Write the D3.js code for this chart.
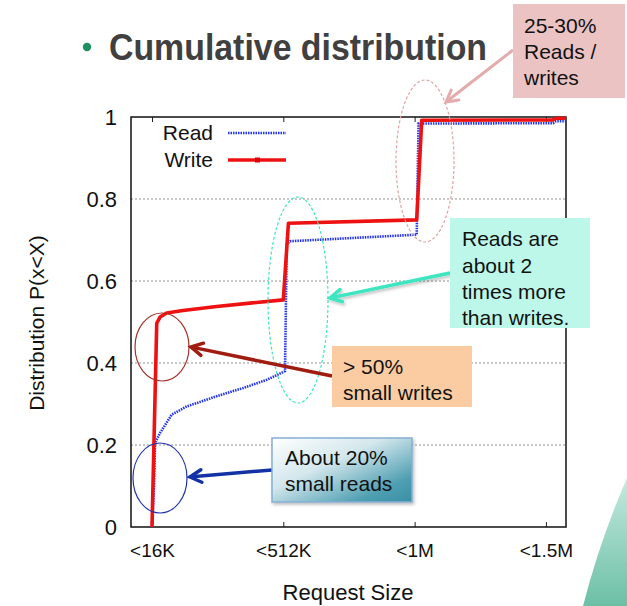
<!DOCTYPE html>
<html>
<head>
<meta charset="utf-8">
<script src="https://cdn.jsdelivr.net/npm/d3@7"></script>
<style>
  body { margin: 0; background: #fff; }
  svg text { font-family: "Liberation Sans", Arial, Helvetica, sans-serif; }
</style>
</head>
<body>
<div id="chart"></div>
<script>
// tick labels on the request size axis (positions 0..3)
var sizeLabels = ["<16K", "<512K", "<1M", "<1.5M"];
var sizeTicks = [0, 1, 2, 3];
var yTicks = [0, 0.2, 0.4, 0.6, 0.8, 1];
var gridTicks = [0.2, 0.4, 0.6, 0.8];

// read CDF, x in axis-tick units
var readX = [0, 0.015, 0.023, 0.061, 0.150, 0.264, 0.493, 0.695, 0.874, 1.013, 1.026, 1.051, 2.016, 2.030, 3.054, 3.077, 3.153];
var readY = [0, 0.10, 0.205, 0.229, 0.274, 0.294, 0.319, 0.339, 0.359, 0.380, 0.690, 0.697, 0.713, 0.984, 0.985, 0.990, 0.990];

// write CDF
var writeX = [0, 0.036, 0.061, 0.112, 0.236, 0.492, 0.746, 1.000, 1.039, 2.016, 2.054, 3.054, 3.077, 3.153];
var writeY = [0, 0.497, 0.512, 0.522, 0.528, 0.538, 0.546, 0.554, 0.741, 0.749, 0.992, 0.993, 0.997, 0.997];

function init() {
    var w = 627;
    var h = 606;
    var left = 131, right = 566, top = 117, bottom = 527;

    var svg = d3.select("#chart")
        .append("svg")
        .attr("width", w)
        .attr("height", h);

    var defs = svg.append("defs");
    var cg = defs.append("linearGradient").attr("id", "corner")
        .attr("x1", 0).attr("y1", 0).attr("x2", 0).attr("y2", 1);
    cg.append("stop").attr("offset", 0).attr("stop-color", "#c4e9de");
    cg.append("stop").attr("offset", 1).attr("stop-color", "#6cbfa5");

    var bg = defs.append("linearGradient").attr("id", "bluebox")
        .attr("x1", 0).attr("y1", 0).attr("x2", 1).attr("y2", 1);
    bg.append("stop").attr("offset", 0).attr("stop-color", "#ffffff");
    bg.append("stop").attr("offset", 0.4).attr("stop-color", "#d3e7ec");
    bg.append("stop").attr("offset", 0.8).attr("stop-color", "#4f9fb2");
    bg.append("stop").attr("offset", 1).attr("stop-color", "#3a8fa4");

    var sh = defs.append("filter").attr("id", "shadow")
        .attr("x", "-10%").attr("y", "-10%").attr("width", "130%").attr("height", "140%");
    sh.append("feDropShadow").attr("dx", 1.5).attr("dy", 2).attr("stdDeviation", 1.5)
        .attr("flood-color", "#000").attr("flood-opacity", 0.25);

    // decorative corner shape
    svg.append("path")
        .attr("d", "M627,478 Q600,540 583,606 L627,606 Z")
        .attr("fill", "url(#corner)");

    // title
    svg.append("circle").attr("cx", 87).attr("cy", 47).attr("r", 4.2).attr("fill", "#1e8f5e");
    svg.append("text")
        .attr("x", 109).attr("y", 60)
        .attr("font-size", 37)
        .attr("font-weight", "bold")
        .attr("fill", "#404040")
        .attr("textLength", 378)
        .attr("lengthAdjust", "spacingAndGlyphs")
        .text("Cumulative distribution");

    var xScale = d3.scaleLinear().domain([-0.16, 3.153]).range([left, right]);
    var yScale = d3.scaleLinear().domain([0, 1]).range([bottom, top]);

    // grid
    svg.append("g").selectAll("line")
        .data(gridTicks)
        .enter().append("line")
        .attr("x1", left).attr("x2", right)
        .attr("y1", function (d) { return yScale(d); })
        .attr("y2", function (d) { return yScale(d); })
        .attr("stroke", "#777")
        .attr("stroke-width", 0.8)
        .attr("stroke-dasharray", "2,2");

    var xAxis = d3.axisBottom(xScale).tickValues(sizeTicks)
        .tickFormat(function (d, i) { return sizeLabels[i]; })
        .tickSize(-5).tickPadding(17);
    var gx = svg.append("g")
        .attr("transform", "translate(0," + bottom + ")")
        .call(xAxis);
    gx.select(".domain").remove();
    gx.selectAll("text").attr("font-size", 19).attr("fill", "#111")
        .attr("font-family", "'Liberation Sans Narrow', 'Liberation Sans', Arial, sans-serif");
    gx.selectAll("line").attr("stroke", "#222");

    var xTop = d3.axisTop(xScale).tickValues(sizeTicks).tickSize(-5).tickFormat("");
    var gxt = svg.append("g").attr("transform", "translate(0," + top + ")").call(xTop);
    gxt.select(".domain").remove();
    gxt.selectAll("line").attr("stroke", "#222");

    var yAxis = d3.axisLeft(yScale).tickValues(yTicks)
        .tickFormat(function (d) { return d === 0 || d === 1 ? d3.format("d")(d) : d3.format(".1f")(d); })
        .tickSize(0).tickPadding(14);
    var gy = svg.append("g")
        .attr("transform", "translate(" + left + ",0)")
        .call(yAxis);
    gy.select(".domain").remove();
    gy.selectAll("text").attr("font-size", 22).attr("fill", "#111");

    // frame
    svg.append("rect")
        .attr("x", left).attr("y", top)
        .attr("width", right - left).attr("height", bottom - top)
        .attr("fill", "none").attr("stroke", "#111").attr("stroke-width", 1.5);

    var line = d3.line()
        .x(function (d) { return xScale(d[0]); })
        .y(function (d) { return yScale(d[1]); });

    var readData = d3.zip(readX, readY);
    var writeData = d3.zip(writeX, writeY);

    svg.append("path")
        .datum(readData)
        .attr("d", line)
        .attr("fill", "none")
        .attr("stroke", "#2233ee")
        .attr("stroke-width", 2.6)
        .attr("stroke-dasharray", "1.5,1");

    svg.append("path")
        .datum(writeData)
        .attr("d", line)
        .attr("fill", "none")
        .attr("stroke", "#ee1111")
        .attr("stroke-width", 3.6)
        .attr("stroke-linejoin", "round");

    // legend
    svg.append("text").attr("x", 213).attr("y", 133).attr("dy", "0.35em")
        .attr("text-anchor", "end").attr("font-size", 21).attr("fill", "#111").text("Read");
    svg.append("text").attr("x", 213).attr("y", 160).attr("dy", "0.35em")
        .attr("text-anchor", "end").attr("font-size", 21).attr("fill", "#111").text("Write");
    svg.append("line").attr("x1", 228).attr("x2", 286).attr("y1", 133).attr("y2", 133)
        .attr("stroke", "#2233ee").attr("stroke-width", 2.6).attr("stroke-dasharray", "1.5,1");
    svg.append("line").attr("x1", 228).attr("x2", 286).attr("y1", 160).attr("y2", 160)
        .attr("stroke", "#ee1111").attr("stroke-width", 3.6);
    svg.append("rect").attr("x", 255).attr("y", 157.5).attr("width", 5).attr("height", 5).attr("fill", "#dd0000");

    // axis titles
    svg.append("text")
        .attr("transform", "translate(37,323) rotate(-90)")
        .attr("text-anchor", "middle").attr("dy", "0.35em")
        .attr("font-size", 21).attr("fill", "#111")
        .text("Distribution P(x<X)");
    svg.append("text")
        .attr("x", 348).attr("y", 592).attr("dy", "0.35em")
        .attr("text-anchor", "middle").attr("font-size", 22).attr("fill", "#111")
        .text("Request Size");

    // annotation ellipses
    function ellipse(cx, cy, rx, ry, color, dash) {
        svg.append("ellipse")
            .attr("cx", cx).attr("cy", cy).attr("rx", rx).attr("ry", ry)
            .attr("fill", "none").attr("stroke", color).attr("stroke-width", 1.2)
            .attr("stroke-dasharray", dash || null);
    }
    ellipse(425, 161, 29, 81, "#e2a4a4", "3,2");
    ellipse(298, 300, 30, 103, "#3ee6c4", "3,2");
    ellipse(162, 347, 27, 34, "#a3332a");
    ellipse(160, 478, 27, 35, "#2233aa");

    function arrow(x1, y1, x2, y2, color, width, filter) {
        var a = Math.atan2(y2 - y1, x2 - x1);
        var L = 13, s = 0.5;
        var g = svg.append("g").attr("filter", filter || null);
        g.append("line").attr("x1", x1).attr("y1", y1).attr("x2", x2 - Math.cos(a) * 2).attr("y2", y2 - Math.sin(a) * 2)
            .attr("stroke", color).attr("stroke-width", width);
        var p1 = [x2 - L * Math.cos(a - s), y2 - L * Math.sin(a - s)];
        var p2 = [x2 - L * Math.cos(a + s), y2 - L * Math.sin(a + s)];
        g.append("path")
            .attr("d", "M" + p1 + "L" + x2 + "," + y2 + "L" + p2)
            .attr("fill", "none").attr("stroke", color).attr("stroke-width", width)
            .attr("stroke-linecap", "round").attr("stroke-linejoin", "miter");
    }
    arrow(513, 50, 446, 102, "#e3abab", 3);
    arrow(450, 273, 330, 298, "#3ce6c0", 3.5, "url(#shadow)");
    arrow(332, 376, 191, 347, "#a01c10", 3.5);
    arrow(272, 470, 190, 477, "#1232a6", 3.5);

    // annotation boxes, one text element per line
    function box(x, y, bw, bh, fill, lines, tx, ty, lh, fs, extra) {
        var r = svg.append("rect").attr("x", x).attr("y", y).attr("width", bw).attr("height", bh).attr("fill", fill);
        if (extra) extra(r);
        lines.forEach(function (s, i) {
            svg.append("text").attr("font-size", fs).attr("fill", "#111")
                .attr("x", tx).attr("y", ty + i * lh).attr("dy", "0.35em").text(s);
        });
    }
    box(513, 4, 112, 94, "#ebc3c3", ["25-30%", "Reads /", "writes"], 524, 26, 26, 21);
    box(450, 218, 140, 110, "#bdf7e9", ["Reads are", "about 2", "times more", "than writes."], 462, 239, 26.3, 21);
    box(332, 346, 140, 61, "#fbcca2", ["> 50%", "small writes"], 343, 367, 25.5, 21);
    box(272, 438, 140, 64, "url(#bluebox)", ["About 20%", "small reads"], 285, 458, 25.5, 21, function (r) {
        r.attr("stroke", "#86aed4").attr("stroke-width", 1.5).attr("filter", "url(#shadow)");
    });
}

window.onload = init;
</script>
</body>
</html>
